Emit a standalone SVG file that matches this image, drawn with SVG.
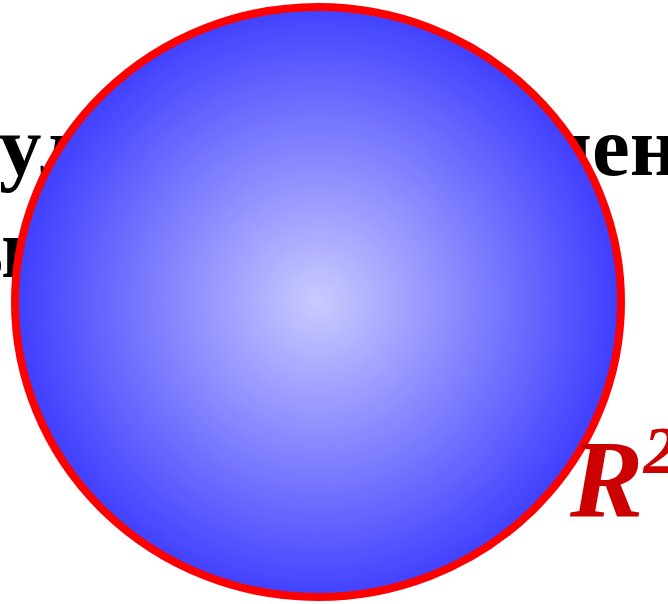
<svg xmlns="http://www.w3.org/2000/svg" width="668" height="604" viewBox="0 0 668 604">
<defs>
<radialGradient id="g" cx="318" cy="302" r="304" gradientUnits="userSpaceOnUse">
<stop offset="0" stop-color="#cacaff"/>
<stop offset="1" stop-color="#3d3dff"/>
</radialGradient>
<style>
.t{font-family:"Liberation Serif",serif;font-weight:bold;font-size:85px;fill:#000}
.r{font-family:"Liberation Serif",serif;font-weight:bold;font-style:italic;fill:#cc0000}
</style>
</defs>
<g id="text-behind">
<text class="t" x="-1" y="175">ул</text>
<text class="t" x="544" y="175">чен</text>
<text class="t" x="-41" y="277">ы</text>
</g>
<g id="sphere">
<ellipse cx="318" cy="302" rx="303" ry="295" fill="url(#g)" stroke="#ff0000" stroke-width="8"/>
</g>
<g id="label">
<text class="r" x="570" y="517" font-size="110">R<tspan font-size="68" dy="-44">2</tspan></text>
</g>
<g id="connectors"/>
</svg>
